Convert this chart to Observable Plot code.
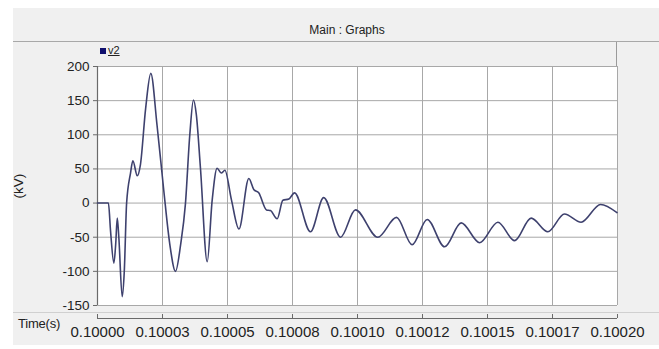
<!DOCTYPE html>
<html>
<head>
<meta charset="utf-8">
<script src="https://cdn.jsdelivr.net/npm/d3@7"></script>
<script src="https://cdn.jsdelivr.net/npm/@observablehq/plot@0.6"></script>
<style>
  html, body { margin: 0; padding: 0; background: #ffffff; }
  #wrap { position: relative; width: 659px; height: 349px; overflow: hidden; font-family: "Liberation Sans", Arial, sans-serif; }
  #panel { position: absolute; left: 13px; top: 8px; width: 646px; height: 337px; background: #f0f0f0; }
  #titleLine { position: absolute; left: 13px; top: 41px; width: 646px; height: 1px; background: #a8a8a8; }
  #title { position: absolute; left: 247px; width: 200px; top: 23px; text-align: center; font-size: 12px; color: #222; }
  #legBorder { position: absolute; left: 616px; top: 42px; width: 1px; height: 24px; background: #9a9a9a; }
  #legSq { position: absolute; left: 100px; top: 48px; width: 6px; height: 6px; background: #10106e; }
  #legTxt { position: absolute; left: 108px; top: 44px; font-size: 11px; color: #222; text-decoration: underline; }
  #lowLine { position: absolute; left: 13px; top: 312px; width: 646px; height: 1px; background: #d0d0d0; }
  #timeLbl { position: absolute; left: 18px; top: 316px; font-size: 13px; color: #222; letter-spacing: -0.2px; }
  #chart { position: absolute; left: 0; top: 0; }
</style>
</head>
<body>
<div id="wrap">
  <div id="panel"></div>
  <div id="titleLine"></div>
  <div id="title">Main : Graphs</div>
  <div id="legBorder"></div>
  <div id="legSq"></div>
  <div id="legTxt">v2</div>
  <div id="lowLine"></div>
  <div id="timeLbl">Time(s)</div>
  <div id="chart"></div>
</div>
<script>
// time offsets from 0.1 s, in microseconds
const timeUs = [0, 4.2, 5.0, 6.3, 7.0, 7.6, 8.2, 9.5, 10.3, 11.2, 12.7, 13.6, 15.3, 16.5, 18.5, 20.5,
  22.9, 25.5, 27.8, 30.0, 32.0, 33.8, 35.5, 36.9, 38.0, 39.6, 42.2, 44.1, 46.0, 47.6, 49.0, 51.5,
  54.4, 58.2, 60.1, 62.0, 65.0, 66.5, 69.1, 71.3, 73.6, 75.8, 81.9, 87.0, 93.5, 99.2, 107.8, 115.0,
  121.0, 126.8, 133.5, 139.9, 147.0, 154.0, 160.4, 166.8, 173.2, 179.6, 186.0, 193.5, 199.8];
// v2 in kV
const v2 = [0, 0, -40, -88, -60, -22, -50, -137, -100, 0, 44, 62, 40, 56, 138, 190,
  114, 18, -60, -100, -60, -2, 100, 151, 130, 51, -86, 4, 51, 44, 48, 5,
  -38, 36, 20, 15, -10, -11, -23, 4, 6, 15, -42, 8, -50, -10, -50, -21,
  -61, -24, -64, -29, -58, -28, -55, -22, -42, -16, -28, -2, -14];

const xTicks = [0.1, 0.100025, 0.10005, 0.100075, 0.1001, 0.100125, 0.10015, 0.100175, 0.1002];
const xTickLabels = ["0.10000", "0.10003", "0.10005", "0.10008", "0.10010", "0.10012", "0.10015", "0.10017", "0.10020"];
const yTicks = [-150, -100, -50, 0, 50, 100, 150, 200];

const data = timeUs.map((t, i) => ({time: 0.1 + t / 1e6, v: v2[i]}));

const chart = Plot.plot({
  width: 659,
  height: 349,
  marginLeft: 97,
  marginRight: 42,
  marginTop: 66,
  marginBottom: 44,
  style: {background: "transparent", fontFamily: "Liberation Sans, Arial, sans-serif", fontSize: "13px", color: "#222"},
  x: {domain: [0.1, 0.1002]},
  y: {domain: [-150, 200]},
  marks: [
    Plot.frame({fill: "white", stroke: null}),
    Plot.gridX(xTicks, {stroke: "#a8a8a8", strokeOpacity: 1, strokeWidth: 1}),
    Plot.gridY(yTicks, {stroke: "#a8a8a8", strokeOpacity: 1, strokeWidth: 1}),
    Plot.ruleX([0.1], {stroke: "#6a6a6a", strokeWidth: 1.2}),
    Plot.ruleY([-150], {dy: 13, stroke: "#6a6a6a", strokeWidth: 1.2}),
    Plot.axisY({ticks: yTicks, tickSize: 4, tickPadding: 4, tickFormat: d => String(d), fontSize: 13.5,
      label: "(kV)", labelAnchor: "center", labelArrow: "none", labelOffset: 84, stroke: "#6a6a6a"}),
    Plot.axisX({ticks: xTicks, tickSize: 4, dy: 9, tickPadding: 8, stroke: "#6a6a6a", fontSize: 15,
      tickFormat: (d, i) => xTickLabels[xTicks.indexOf(d)], label: null}),
    Plot.line(data, {x: "time", y: "v", stroke: "#3e416e", strokeWidth: 1.6, curve: "monotone-x"})
  ]
});
document.getElementById("chart").appendChild(chart);
</script>
</body>
</html>
